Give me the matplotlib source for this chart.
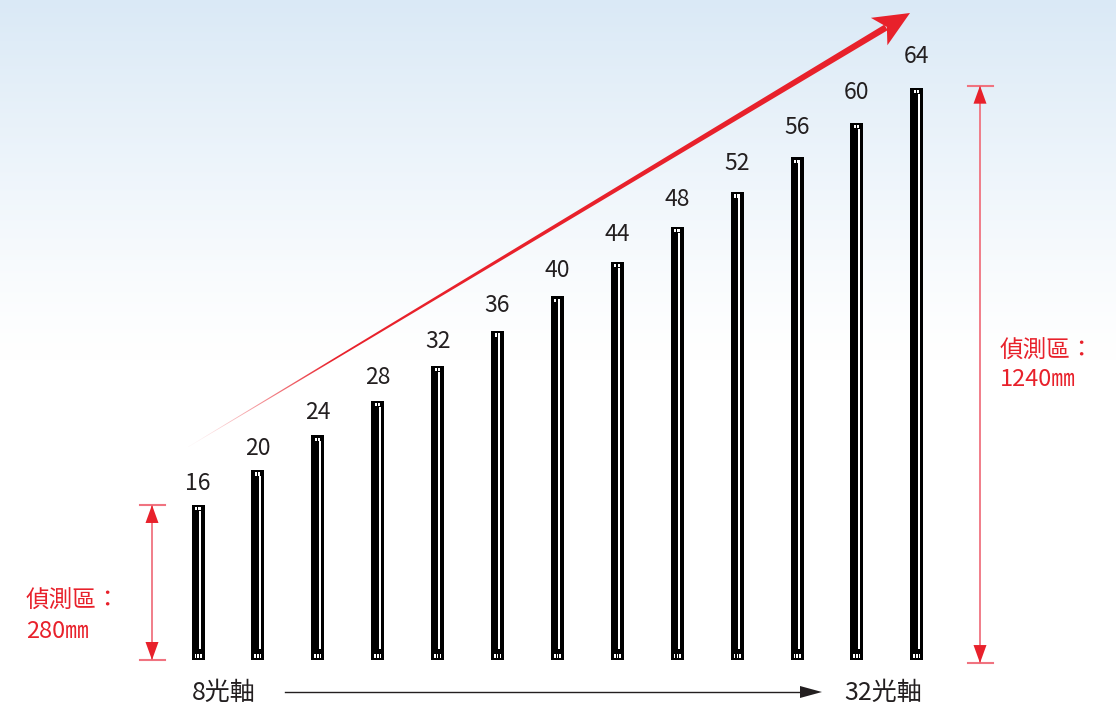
import numpy as np
import matplotlib
matplotlib.use("Agg")
import matplotlib.pyplot as plt
from matplotlib.patches import Rectangle, Polygon

plt.rcParams['font.family'] = ['Noto Sans CJK TC', 'DejaVu Sans']

# ---- data ----
beams = [16, 20, 24, 28, 32, 36, 40, 44, 48, 52, 56, 60, 64]
labels = [str(b) for b in beams]
zone_small = "280㎜"
zone_large = "1240㎜"
zone_title = "偵測區："
axis_start = "8光軸"
axis_end = "32光軸"

W, H = 1116, 711
fig = plt.figure(figsize=(W / 100, H / 100), dpi=100)

# pixel-space axes (background + decorations)
axp = fig.add_axes([0, 0, 1, 1])
axp.set_xlim(0, W)
axp.set_ylim(H, 0)
axp.axis('off')

# gradient background
rows = np.arange(H)
t = np.clip(1 - rows / 360.0, 0, 1) ** 1.2
top = np.array([0.855, 0.914, 0.965])
col = (1 - t)[:, None] * np.ones(3)[None, :] + t[:, None] * top[None, :]
img = np.repeat(col[:, None, :], 4, axis=1)
axp.imshow(img, extent=[0, W, H, 0], aspect='auto', zorder=0, interpolation='bilinear')

RED = (0.91, 0.13, 0.17)

# main diagonal red arrow (tapered, fading tail)
tail = np.array([188.0, 447.0])
tip = np.array([910.0, 13.0])
d = tip - tail
L = np.linalg.norm(d)
u = d / L
perp = np.array([-u[1], u[0]])
head_len = 34.0
base = tip - head_len * u
sL = L - head_len + 6
w0, w1 = 0.4, 6.5
shaft = np.array([
    tail + perp * w0 / 2,
    tail + u * sL + perp * w1 / 2,
    tail + u * sL - perp * w1 / 2,
    tail - perp * w0 / 2,
])
gx, gy = np.meshgrid(np.arange(W) + 0.5, np.arange(H) + 0.5)
s = (gx - tail[0]) * u[0] + (gy - tail[1]) * u[1]
alpha = np.clip(s / 170.0, 0.04, 1.0)
rgba = np.zeros((H, W, 4))
rgba[..., 0], rgba[..., 1], rgba[..., 2] = RED
rgba[..., 3] = alpha
im = axp.imshow(rgba, extent=[0, W, H, 0], aspect='auto', zorder=2, interpolation='bilinear')
shaft_patch = Polygon(shaft, closed=True, transform=axp.transData, facecolor='none', edgecolor='none')
axp.add_patch(shaft_patch)
im.set_clip_path(shaft_patch)
head = np.array([
    tip,
    base + perp * 16 - u * 2,
    base + u * 7,
    base - perp * 16 - u * 2,
])
axp.add_patch(Polygon(head, closed=True, facecolor=RED, edgecolor='none', zorder=3))

# bottom axis arrow
DARK = '#231f20'
axp.plot([285, 805], [692, 692], color=DARK, lw=1.0, zorder=3)
axp.add_patch(Polygon([[822, 692], [800, 686], [800, 698]], closed=True,
                      facecolor=DARK, edgecolor='none', zorder=3))
axp.text(192, 693, axis_start, fontsize=18, color=DARK, ha='left', va='center', zorder=4)
axp.text(844, 693, axis_end, fontsize=18, color=DARK, ha='left', va='center', zorder=4)

# zone texts
axp.text(26, 601, zone_title, fontsize=17, color=RED, ha='left', va='center', zorder=4)
axp.text(26, 632, zone_small, fontsize=17, color=RED, ha='left', va='center', zorder=4)
axp.text(1000, 351, zone_title, fontsize=17, color=RED, ha='left', va='center', zorder=4)
axp.text(1000, 379, zone_large, fontsize=17, color=RED, ha='left', va='center', zorder=4)

# ---- data axes: bars ----
XS, YS = 59.9, 8.69          # px per data unit
X0, Y0 = 198.0, 660.0        # pixel of (0, 0)
ax = fig.add_axes([0, 0, 1, 1])
ax.patch.set_alpha(0)
ax.set_xlim(-X0 / XS, (W - X0) / XS)
ax.set_ylim(-(H - Y0) / YS, Y0 / YS)
ax.axis('off')

CAP = 1.84
PX, PY = 1 / XS, 1 / YS
for i, n in enumerate(beams):
    h = n + CAP
    ax.add_patch(Rectangle((i - 6.5 * PX, 0), 13 * PX, h, facecolor='black', edgecolor='none', zorder=5))
    # white stripe
    ax.add_patch(Rectangle((i + 0.8 * PX, 11 * PY), 2.0 * PX, h - 17 * PY,
                           facecolor='white', edgecolor='none', zorder=6))
    # top cap window
    ax.add_patch(Rectangle((i - 3 * PX, h - 5.5 * PY), 5.5 * PX, 3.3 * PY,
                           facecolor='white', edgecolor='none', zorder=6))
    ax.add_patch(Rectangle((i - 1 * PX, h - 5.5 * PY), 1.2 * PX, 3.3 * PY,
                           facecolor='black', edgecolor='none', zorder=7))
    # bottom cap window
    ax.add_patch(Rectangle((i - 3.5 * PX, 1.8 * PY), 7 * PX, 4 * PY,
                           facecolor='white', edgecolor='none', zorder=6))
    ax.add_patch(Rectangle((i - 1.8 * PX, 1.8 * PY), 1.2 * PX, 4 * PY,
                           facecolor='black', edgecolor='none', zorder=7))
    ax.add_patch(Rectangle((i + 0.8 * PX, 1.8 * PY), 1.2 * PX, 4 * PY,
                           facecolor='black', edgecolor='none', zorder=7))
    off = (21 + (n - 16) * 0.21) * PY
    ax.text(i, h + off, labels[i], fontsize=16.5, color=DARK, ha='center', va='center', zorder=8)

# dimension arrows
PINK = (0.94, 0.45, 0.50)


def dim_arrow(x, y0, y1):
    ax.plot([x, x], [y0, y1], color=PINK, lw=1.3, zorder=4)
    for yy in (y0, y1):
        ax.plot([x - 12.5 * PX, x + 12.5 * PX], [yy, yy], color=PINK, lw=1.5, zorder=4)
    hl, hw = 18 * PY, 6.5 * PX
    ax.add_patch(Polygon([[x, y1], [x - hw, y1 - hl], [x + hw, y1 - hl]], closed=True,
                         facecolor=RED, edgecolor='none', zorder=5))
    ax.add_patch(Polygon([[x, y0], [x - hw, y0 + hl], [x + hw, y0 + hl]], closed=True,
                         facecolor=RED, edgecolor='none', zorder=5))


dim_arrow((152 - X0) / XS, 0, beams[0] + CAP)
dim_arrow((980 - X0) / XS, -0.35, beams[-1] + CAP + 0.25)

fig.savefig('out.png', dpi=100)
